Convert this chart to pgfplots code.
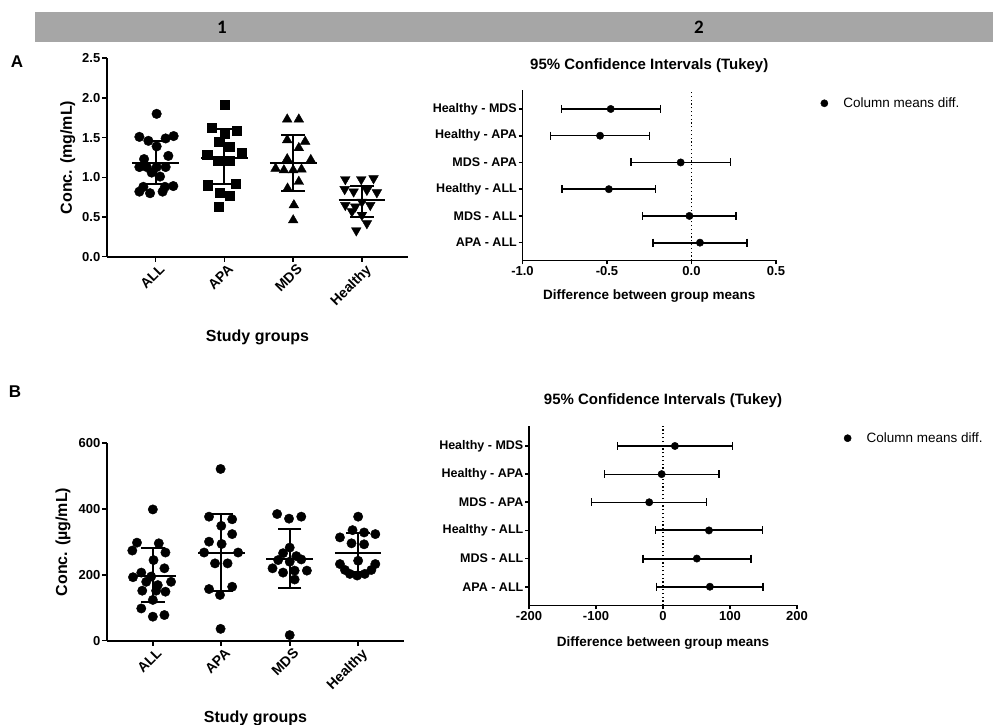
\documentclass[border=0pt]{standalone}
\usepackage{fontspec}
\setmainfont{Liberation Sans}
\newfontfamily\hdrfont{Carlito}
\usepackage{pgfplots}
\pgfplotsset{compat=1.18}

\definecolor{hdrgray}{RGB}{166,166,166}

\pgfplotsset{
  gp/.style={
    scale only axis,
    anchor=south west,
    axis lines=left,
    axis line style={-, line width=1.8pt},
    tick align=outside,
    major tick length=5pt,
    tick style={line width=1.6pt, black},
    clip=false,
    unbounded coords=jump,
    /pgf/number format/assume math mode=true,
    ticklabel style={font=\bfseries\fontsize{13}{15}\selectfont, inner sep=1.5pt},
    label style={font=\bfseries\fontsize{16}{18}\selectfont},
  },
  dot/.style={
    ymin=0,
    xtick={0,1,2,3},
    xticklabels={ALL,APA,MDS,Healthy},
    xticklabel style={rotate=45, anchor=north east, inner sep=1pt,
      font=\bfseries\fontsize{14}{16}\selectfont, yshift=-2pt, xshift=2pt},
    xlabel={Study groups},
    xlabel style={at={(axis description cs:0.5,0)}, anchor=base},
  },
  meanline/.style={black, line width=2pt, mark=none},
  sdbar/.style={black, line width=2pt, mark=-, mark size=11.7pt, mark options={line width=2pt}},
  ci/.style={
    ymin=0.333, ymax=6.71,
    ytick={1,2,3,4,5,6},
    yticklabels={APA - ALL, MDS - ALL, Healthy - ALL, MDS - APA, Healthy - APA, Healthy - MDS},
    yticklabel style={font=\bfseries\fontsize{12.5}{14}\selectfont},
    major tick length=4pt,
    title style={font=\bfseries\fontsize{15}{17}\selectfont, at={(0.5,1)}, anchor=base},
    title={95\% Confidence Intervals (Tukey)},
    xlabel={Difference between group means},
    xlabel style={font=\bfseries\fontsize{13.5}{16}\selectfont, at={(axis description cs:0.5,0)}, anchor=base},
    legend style={draw=none, fill=none, anchor=west, inner sep=0pt,
      font=\fontsize{13.5}{16}\selectfont},
    legend image code/.code={\fill[black] (0pt,0pt) circle (3.6pt); \path[draw=none, fill=none] (-3.6pt,0pt) rectangle (17pt,0.1pt);},
  },
  cithin/.style={black, line width=1.2pt, mark=|, mark size=4pt, mark options={line width=1.2pt}},
  cithick/.style={black, line width=2pt, mark=|, mark size=4pt, mark options={line width=1.8pt}},
  cidot/.style={only marks, black, mark=*, mark size=3.7pt},
}

\begin{document}
\begin{tikzpicture}
\useasboundingbox (0,0) rectangle (993pt,725pt);

% header bar
\fill[hdrgray] (35pt,683pt) rectangle (993pt,713pt);
\node[font=\hdrfont\bfseries\fontsize{19}{21}\selectfont] at (222pt,698pt) {1};
\node[font=\hdrfont\bfseries\fontsize{19}{21}\selectfont] at (699pt,698pt) {2};

% panel letters
\node[font=\bfseries\fontsize{17}{19}\selectfont] at (17pt,663pt) {A};
\node[font=\bfseries\fontsize{17}{19}\selectfont] at (15pt,333pt) {B};

% ---------- A1: scatter mg/mL ----------
\begin{axis}[gp, dot,
  at={(107pt,468.3pt)}, width=301pt, height=198.4pt,
  xmin=-0.708, xmax=3.67, ymax=2.5,
  ytick={0,0.5,1,1.5,2,2.5},
  yticklabel style={/pgf/number format/.cd, fixed, fixed zerofill, precision=1},
  xlabel style={yshift=-85pt},
  ylabel={Conc. (mg/mL)},
  ylabel style={at={(axis description cs:-0.13,0.5)}, anchor=center},
]
\addplot[only marks, black, mark=*, mark size=4.8pt] coordinates {
  (0.014,1.80) (-0.237,1.51) (-0.106,1.46) (0.145,1.49) (0.261,1.52)
  (0.014,1.39) (-0.169,1.23) (0.184,1.27) (-0.237,1.13) (-0.130,1.13)
  (0.014,1.13) (0.145,1.13) (-0.058,1.06) (0.063,1.01) (-0.179,0.88)
  (0.135,0.88) (-0.237,0.82) (-0.082,0.80) (0.101,0.82) (0.256,0.89)
};
\addplot[only marks, black, mark=square*, mark size=4.6pt] coordinates {
  (1.000,1.92) (0.812,1.63) (1.174,1.59) (1.005,1.55) (0.918,1.45)
  (1.072,1.39) (0.749,1.29) (1.256,1.31) (0.899,1.21) (1.072,1.21)
  (0.758,0.90) (1.169,0.92) (0.928,0.81) (1.072,0.77) (0.913,0.63)
};
\addplot[only marks, black, mark=triangle*, mark size=5.6pt] coordinates {
  (1.913,1.73) (2.082,1.73) (1.913,1.47) (2.174,1.45) (2.082,1.37)
  (1.913,1.23) (2.256,1.22) (1.744,1.11) (1.865,1.09) (2.000,1.09)
  (2.121,1.10) (2.082,0.945) (1.918,0.86) (2.010,0.65) (2.000,0.46)
};
\addplot[only marks, black, mark=triangle*, mark size=5.6pt, mark options={rotate=180}] coordinates {
  (2.758,0.975) (2.990,0.975) (3.169,0.987) (2.749,0.85) (2.879,0.82)
  (3.072,0.84) (3.217,0.81) (2.758,0.65) (2.903,0.63) (3.121,0.65)
  (3.000,0.69) (2.855,0.57) (3.000,0.525) (3.072,0.42) (2.918,0.33)
};
% mean lines
\addplot[meanline] coordinates {
  (-0.34,1.185) (0.34,1.185) (nan,nan)
  (0.66,1.24) (1.34,1.24) (nan,nan)
  (1.66,1.176) (2.34,1.176) (nan,nan)
  (2.66,0.71) (3.34,0.71)
};
% SD bars
\addplot[sdbar] coordinates {
  (0,0.92) (0,1.46) (nan,nan)
  (1,0.91) (1,1.605) (nan,nan)
  (2,0.83) (2,1.53) (nan,nan)
  (3,0.50) (3,0.89)
};
\end{axis}

% ---------- B1: scatter ug/mL ----------
\begin{axis}[gp, dot,
  at={(107pt,84.3pt)}, width=297pt, height=197.4pt,
  xmin=-0.67, xmax=3.67, ymax=600,
  ytick={0,200,400,600},
  xlabel style={yshift=-82pt},
  ylabel={Conc. (µg/mL)},
  ylabel style={at={(axis description cs:-0.148,0.5)}, anchor=center},
]
\addplot[only marks, black, mark=*, mark size=4.7pt] coordinates {
  (0.000,399) (-0.232,298) (0.087,296) (-0.300,274) (0.184,268)
  (0.010,245) (-0.169,207) (-0.290,193) (-0.024,195) (0.169,220)
  (0.266,179) (-0.097,179) (-0.155,152) (0.048,152) (0.184,149)
  (0.000,124) (-0.169,98) (0.000,73) (0.169,78) (0.072,169)
};
\addplot[only marks, black, mark=*, mark size=4.7pt] coordinates {
  (0.990,522) (0.821,377) (1.159,369) (1.000,349) (1.159,324)
  (0.821,301) (1.005,294) (0.749,268) (1.246,268) (0.908,235)
  (1.092,235) (0.821,157) (1.159,164) (0.981,139) (0.990,36)
};
\addplot[only marks, black, mark=*, mark size=4.7pt] coordinates {
  (1.816,385) (1.990,371) (2.169,377) (2.000,283) (1.903,266)
  (2.097,257) (1.831,245) (2.000,240) (2.169,247) (1.749,220)
  (1.903,207) (2.072,213) (2.251,213) (2.072,186) (2.000,17)
};
\addplot[only marks, black, mark=*, mark size=4.7pt] coordinates {
  (3.000,377) (2.734,314) (2.918,336) (3.087,329) (3.251,324)
  (2.903,296) (3.087,293) (3.000,243) (2.734,233) (3.251,233)
  (2.807,215) (2.879,203) (2.986,198) (3.097,203) (3.193,215)
};
\addplot[meanline] coordinates {
  (-0.34,198) (0.34,198) (nan,nan)
  (0.66,268) (1.34,268) (nan,nan)
  (1.66,247) (2.34,247) (nan,nan)
  (2.66,268) (3.34,268)
};
\addplot[sdbar] coordinates {
  (0,117) (0,281) (nan,nan)
  (1,152) (1,385) (nan,nan)
  (2,159) (2,338) (nan,nan)
  (3,210) (3,326)
};
\end{axis}

% ---------- A2: Tukey CI ----------
\begin{axis}[gp, ci,
  at={(522.5pt,464.5pt)}, width=253.5pt, height=170.5pt,
  xmin=-1, xmax=0.5,
  xtick={-1,-0.5,0,0.5},
  xticklabel style={/pgf/number format/.cd, fixed, fixed zerofill, precision=1},
  title style={yshift=14pt},
  xlabel style={yshift=-39.5pt},
  legend style={at={(1.175,0.922)}},
]
\addplot[forget plot, black, line width=1.2pt, dash pattern=on 1.2pt off 2.6pt]
  coordinates {(0,0.333) (0,6.71)};
\addplot[forget plot, cithin] coordinates {
  (-0.771,6) (-0.185,6) (nan,nan)
  (-0.834,5) (-0.248,5) (nan,nan)
  (-0.358,4) (0.230,4)
};
\addplot[forget plot, cithick] coordinates {
  (-0.765,3) (-0.213,3) (nan,nan)
  (-0.2895,2) (0.2645,2) (nan,nan)
  (-0.226,1) (0.326,1)
};
\addplot[cidot] coordinates {
  (-0.478,6) (-0.541,5) (-0.064,4) (-0.489,3) (-0.0125,2) (0.050,1)
};
\addlegendentry{Column means diff.}
\end{axis}

% ---------- B2: Tukey CI ----------
\begin{axis}[gp, ci,
  at={(529pt,119.5pt)}, width=268pt, height=179.5pt,
  xmin=-200, xmax=200,
  xtick={-200,-100,0,100,200},
  title style={yshift=15.5pt},
  xlabel style={yshift=-41pt},
  legend style={at={(1.174,0.932)}},
]
\addplot[forget plot, black, line width=1.2pt, dash pattern=on 1.2pt off 2.6pt]
  coordinates {(0,0.333) (0,6.71)};
\addplot[forget plot, cithin] coordinates {
  (-67.8,6) (103.4,6) (nan,nan)
  (-87.6,5) (83.6,5) (nan,nan)
  (-106.2,4) (65.0,4)
};
\addplot[forget plot, cithick] coordinates {
  (-11.3,3) (148.5,3) (nan,nan)
  (-30.0,2) (131.0,2) (nan,nan)
  (-9.6,1) (149.6,1)
};
\addplot[cidot] coordinates {
  (17.8,6) (-2.0,5) (-20.6,4) (68.6,3) (50.5,2) (70.0,1)
};
\addlegendentry{Column means diff.}
\end{axis}

\end{tikzpicture}
\end{document}
